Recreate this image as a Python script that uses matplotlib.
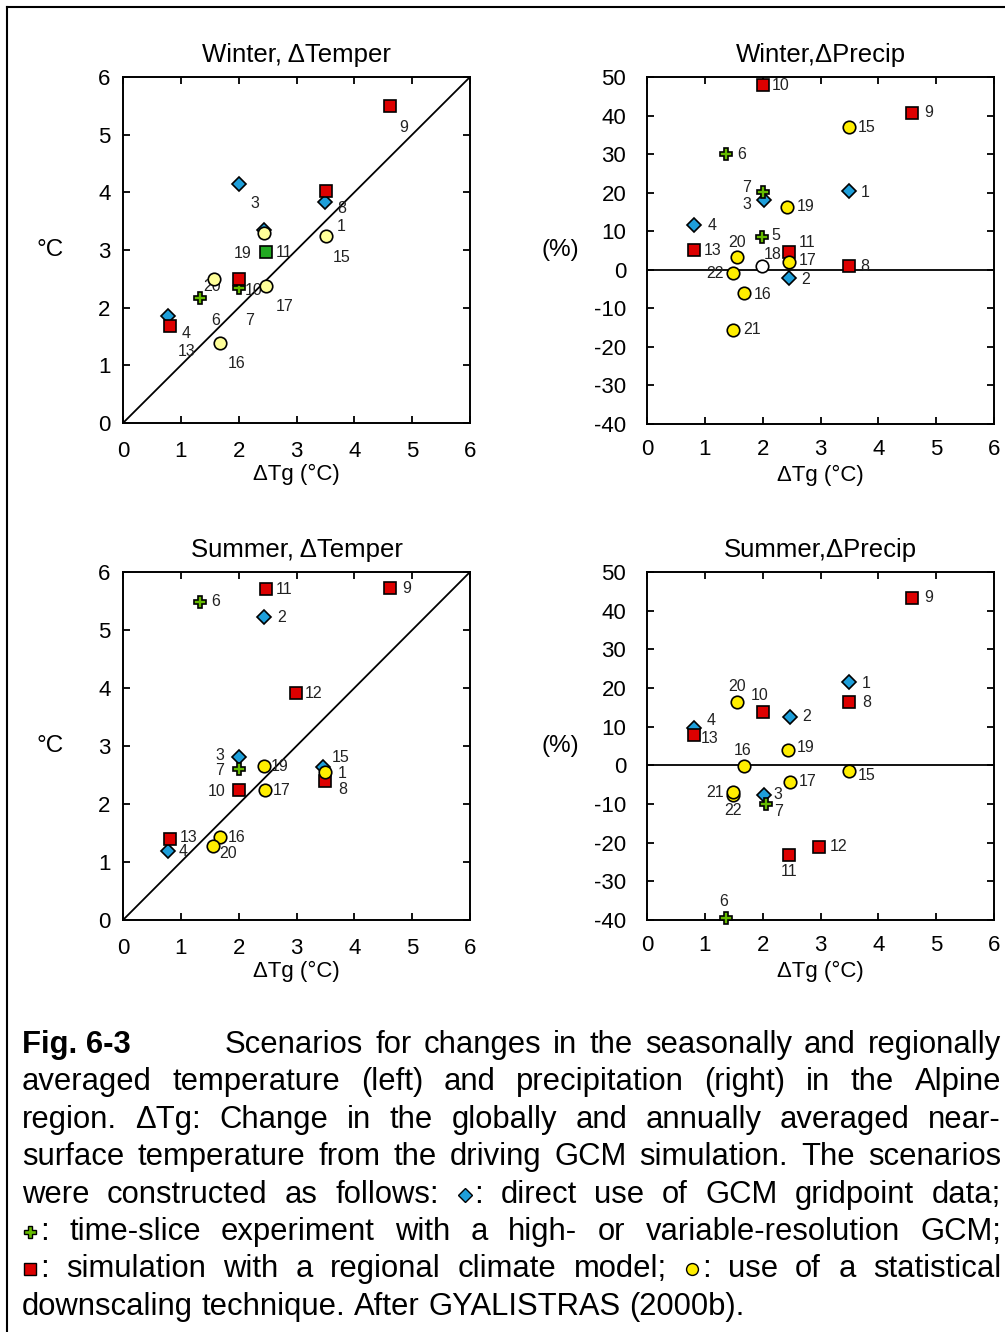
import matplotlib
matplotlib.use("Agg")
import matplotlib.pyplot as plt
from matplotlib.lines import Line2D
import numpy as np

plt.rcParams['font.family'] = ['Liberation Sans', 'DejaVu Sans']
plt.rcParams['axes.unicode_minus'] = False

# kinds: D = GCM gridpoint, P = time-slice GCM, s = regional model,
# g = regional model (green), o = statistical downscaling, w = open circle

# Winter, dTemper
wt_x = [2.01, 3.50, 0.78, 2.44, 1.33, 2.00, 4.62, 3.51, 2.00, 0.81, 2.48, 3.51, 1.67, 2.47, 2.44, 1.57]
wt_y = [4.14, 3.83, 1.86, 3.35, 2.16, 2.34, 5.49, 4.03, 2.49, 1.69, 2.96, 3.24, 1.38, 2.38, 3.30, 2.49]
wt_k = ['D', 'D', 'D', 'D', 'P', 'P', 's', 's', 's', 's', 'g', 'o', 'o', 'o', 'o', 'o']
wt_lab = ['3', '1', '4', '', '6', '7', '9', '8', '10', '13', '11', '15', '16', '17', '19', '20']

# Winter, dPrecip
wp_x = [3.49, 2.46, 2.03, 0.82, 1.36, 2.01, 1.99, 4.59, 2.00, 2.46, 0.81, 3.49, 3.49, 1.68, 2.46, 2.42, 1.55, 1.48, 1.48, 1.99]
wp_y = [20.5, -2.1, 18.0, 11.6, 30.0, 20.2, 8.4, 40.7, 47.8, 4.7, 5.1, 0.9, 37.0, -6.1, 2.1, 16.3, 3.4, -15.5, -0.8, 1.0]
wp_k = ['D', 'D', 'D', 'D', 'P', 'P', 'P', 's', 's', 's', 's', 's', 'o', 'o', 'o', 'o', 'o', 'o', 'o', 'w']
wp_lab = ['1', '2', '3', '4', '6', '7', '5', '9', '10', '11', '13', '8', '15', '16', '17', '19', '20', '21', '22', '18']

# Summer, dTemper
st_x = [3.45, 2.43, 2.00, 0.78, 1.33, 2.00, 3.49, 4.62, 2.00, 2.48, 2.99, 0.82, 3.50, 1.68, 2.46, 2.43, 1.56]
st_y = [2.63, 5.22, 2.81, 1.19, 5.48, 2.61, 2.40, 5.72, 2.24, 5.70, 3.91, 1.39, 2.56, 1.43, 2.24, 2.65, 1.27]
st_k = ['D', 'D', 'D', 'D', 'P', 'P', 's', 's', 's', 's', 's', 's', 'o', 'o', 'o', 'o', 'o']
st_lab = ['15', '2', '3', '4', '6', '7', '8', '9', '10', '11', '12', '13', '1', '16', '17', '19', '20']

# Summer, dPrecip
sp_x = [3.50, 2.48, 2.03, 0.81, 1.37, 2.05, 3.50, 4.59, 2.00, 2.46, 2.98, 0.81, 3.49, 1.68, 2.48, 2.43, 1.55, 1.48, 1.48]
sp_y = [21.5, 12.6, -7.6, 9.6, -39.6, -10.0, 16.3, 43.4, 13.9, -23.3, -21.0, 7.9, -1.4, -0.1, -4.3, 4.0, 16.3, -7.6, -6.8]
sp_k = ['D', 'D', 'D', 'D', 'P', 'P', 's', 's', 's', 's', 's', 's', 'o', 'o', 'o', 'o', 'o', 'o', 'o']
sp_lab = ['1', '2', '3', '4', '6', '7', '8', '9', '10', '11', '12', '13', '15', '16', '17', '19', '20', '22', '21']

# label offsets in pixels (dx, dy up)
wt_off = [(16, -19), (16, -24), (18, -18), (0, 0), (16, -22), (11, -32), (13, -21), (16, -18), (15, -11),
          (17, -26), (18, 0), (16, -21), (17, -20), (19, -21), (-21, -21), (-2, -7)]
wp_off = [(16, -2), (16, -2), (-18, -4), (18, 0), (16, 0), (-17, 4), (14, 2), (16, 0), (18, 0), (18, 9),
          (19, 0), (16, 0), (18, 0), (18, -1), (18, 1), (19, 0), (0, 14), (19, 0), (-18, -1), (11, 11)]
st_off = [(18, 10), (18, 0), (-19, 2), (15, -1), (16, 1), (-19, -2), (18, -9), (16, 0), (-22, -1), (18, 0),
          (18, 0), (18, 2), (17, -2), (16, 0), (16, 0), (16, 0), (15, -7)]
sp_off = [(17, -1), (16, 0), (13, 0), (17, 8), (-3, 17), (13, -8), (17, 0), (16, 0), (-3, 16), (0, -16),
          (19, 0), (16, -4), (18, -5), (-2, 15), (17, 0), (18, 2), (0, 16), (0, -16), (-18, -1)]

styles = {
    'D': dict(marker='D', ms=7.5, mfc='#1e9fda'),
    'P': dict(marker='P', ms=8.5, mfc='#66bb00'),
    's': dict(marker='s', ms=9, mfc='#dd0000'),
    'g': dict(marker='s', ms=9, mfc='#22aa22'),
    'o': dict(marker='o', ms=9, mfc='#ffee00'),
    'w': dict(marker='o', ms=9, mfc='white'),
}

W, H = 1005, 1332
fig = plt.figure(figsize=(W / 100, H / 100), dpi=100)

# left + top frame lines
fig.add_artist(Line2D([7 / W, 1], [1 - 7 / H, 1 - 7 / H], color='black', lw=1.5, transform=fig.transFigure))
fig.add_artist(Line2D([7 / W, 7 / W], [0, 1 - 7 / H], color='black', lw=1.5, transform=fig.transFigure))


def make_ax(left, top, bottom, title, xs, ys, ks, labs, offs, temp, pale=False):
    ax = fig.add_axes([left / W, 1 - bottom / H, 347 / W, (bottom - top) / H])
    ax.set_xlim(0, 6)
    if temp:
        ax.set_ylim(0, 6)
        ax.plot([0, 6], [0, 6], color='black', lw=1.3, zorder=1)
        ax.set_yticks(range(0, 7))
        ylab, lx, ypad, xpad = '°C', -73 / 347, 9, 13
    else:
        ax.set_ylim(-40, 50)
        ax.axhline(0, color='black', lw=1.3, zorder=1)
        ax.set_yticks(range(-40, 60, 10))
        ylab, lx, ypad, xpad = '(%)', -87 / 347, 15, 11
    ax.set_xticks(range(0, 7))
    ax.tick_params(direction='in', length=5, width=1.3, top=True, right=True,
                   labelsize=16, colors='black')
    ax.tick_params(axis='y', pad=ypad)
    ax.tick_params(axis='x', pad=xpad)
    for sp in ax.spines.values():
        sp.set_linewidth(1.4)
    ax.set_title(title, fontsize=18.5, pad=11)
    ax.set_ylabel(ylab, fontsize=17.5, rotation=0, va='center', ha='center')
    ax.yaxis.set_label_coords(lx, 0.5)
    ax.set_xlabel('ΔTg (°C)', fontsize=16, va='center')
    ax.xaxis.set_label_coords(0.5, -51 / 346)

    xs = np.array(xs)
    ys = np.array(ys)
    ks = np.array(ks)
    z = 3
    for kind in ['D', 'P', 's', 'g', 'o', 'w']:
        for i in np.where(ks == kind)[0]:
            st = dict(styles[kind])
            if kind == 'o' and pale:
                st['mfc'] = '#ffff99'
            ax.plot(xs[i], ys[i], ls='none', mec='black', mew=1.2, zorder=z, clip_on=False, **st)
            z += 0.01
    for i in range(len(labs)):
        if labs[i]:
            ax.annotate(labs[i], (xs[i], ys[i]), xytext=offs[i], textcoords='offset pixels',
                        ha='center', va='center', fontsize=11.5, color='#222222', zorder=2)
    return ax


make_ax(123, 77, 423, 'Winter, ΔTemper', wt_x, wt_y, wt_k, wt_lab, wt_off, True, pale=True)
make_ax(647, 77, 424, 'Winter,ΔPrecip', wp_x, wp_y, wp_k, wp_lab, wp_off, False)
make_ax(123, 572, 920, 'Summer, ΔTemper', st_x, st_y, st_k, st_lab, st_off, True)
make_ax(647, 572, 920, 'Summer,ΔPrecip', sp_x, sp_y, sp_k, sp_lab, sp_off, False)

# caption, justified word by word
cap_fs = 22.3
lines = [
    "Scenarios for changes in the seasonally and regionally",
    "averaged temperature (left) and precipitation (right) in the Alpine",
    "region. ΔTg: Change in the globally and annually averaged near-",
    "surface temperature from the driving GCM simulation. The scenarios",
    "were constructed as follows: #D: direct use of GCM gridpoint data;",
    "#P: time-slice experiment with a high- or variable-resolution GCM;",
    "#s: simulation with a regional climate model; #o: use of a statistical",
    "downscaling technique. After GYALISTRAS (2000b).",
]
renderer = fig.canvas.get_renderer()
mk_w = 18


def text_w(s):
    t = fig.text(0, 0, s, fontsize=cap_fs)
    w = t.get_window_extent(renderer).width
    t.remove()
    return w


def word_w(w):
    if w.startswith('#'):
        return mk_w + text_w(w[2:])
    return text_w(w)


def draw_word(w, x, yb):
    if w.startswith('#'):
        st = dict(styles[w[1]])
        st['ms'] = st['ms'] * 0.95
        fig.add_artist(Line2D([(x + mk_w / 2 - 1) / W], [1 - (yb - 8) / H], ls='none', mec='black',
                              mew=1.0, transform=fig.transFigure, **st))
        fig.text((x + mk_w) / W, 1 - yb / H, w[2:], fontsize=cap_fs, va='baseline')
    else:
        fig.text(x / W, 1 - yb / H, w, fontsize=cap_fs, va='baseline')


fig.text(22 / W, 1 - 1053 / H, 'Fig. 6-3', fontsize=cap_fs, fontweight='bold', va='baseline')
right = 1001
for n, line in enumerate(lines):
    yb = 1053 + 37.4 * n
    left = 225 if n == 0 else 22
    words = line.split(' ')
    widths = [word_w(w) for w in words]
    if n < len(lines) - 1:
        gap = (right - left - sum(widths)) / (len(words) - 1)
    else:
        gap = text_w('a b') - text_w('ab')
    x = left
    for w, ww in zip(words, widths):
        draw_word(w, x, yb)
        x += ww + gap

fig.savefig('out.png', dpi=100)
